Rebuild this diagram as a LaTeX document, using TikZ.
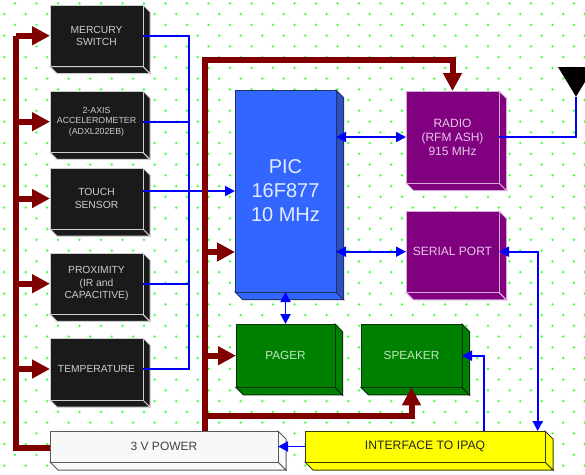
\documentclass[tikz,border=0pt]{standalone}
\usepackage{fontspec}
\setmainfont{Liberation Sans}
\usetikzlibrary{arrows.meta}
\definecolor{maroonbus}{RGB}{128,0,0}
\definecolor{dotgreen}{RGB}{40,255,40}
\definecolor{blk}{RGB}{26,26,26}
\definecolor{blkedge}{RGB}{205,205,205}
\definecolor{pur}{RGB}{128,0,128}
\definecolor{puredge}{RGB}{215,170,215}
\definecolor{puretxt}{RGB}{232,200,232}
\definecolor{grn}{RGB}{0,128,0}
\definecolor{grnedge}{RGB}{10,50,10}
\definecolor{grntxt}{RGB}{190,230,190}
\definecolor{picblue}{RGB}{51,102,255}
\definecolor{picside}{RGB}{44,80,190}
\definecolor{picedge}{RGB}{30,50,110}
\definecolor{pictxt}{RGB}{225,235,255}
\definecolor{pwr}{RGB}{248,248,248}
\definecolor{pwredge}{RGB}{90,90,90}
\definecolor{ylw}{RGB}{255,255,0}
\definecolor{ylwedge}{RGB}{60,60,0}
\tikzset{
  boxbase/.style={draw,line width=1pt,inner sep=0pt,outer sep=0pt,align=center,anchor=north west},
  sidebase/.style={draw,line width=1pt,line join=miter},
  power/.style={line width=6pt,maroonbus,line join=miter},
  powerarrow/.style={power,-{Triangle[length=18pt,width=18pt]}},
  sig/.style={line width=1.9pt,color=blue,line join=miter},
  sigto/.style={sig,-{Triangle[length=10pt,width=10pt]}},
  sigboth/.style={sig,{Triangle[length=10pt,width=10pt]}-{Triangle[length=10pt,width=10pt]}},
}
% name, x1,y1,x2,y2, depth, fill, edge, rightside
\newcommand{\hwblock}[9]{%
  \pgfmathsetmacro{\xa}{#2}\pgfmathsetmacro{\ya}{#3}%
  \pgfmathsetmacro{\xb}{#4}\pgfmathsetmacro{\yb}{#5}%
  \pgfmathsetmacro{\xc}{#4+#6}\pgfmathsetmacro{\yc}{#5+#6}%
  \pgfmathsetmacro{\blockw}{#4-#2}\pgfmathsetmacro{\blockh}{#5-#3}%
  \pgfmathsetmacro{\xd}{#2+#6}\pgfmathsetmacro{\yd}{#3+#6}%
  \draw[sidebase,draw=#8,fill=#7] (\xa,\yb) -- (\xd,\yc) -- (\xc,\yc) -- (\xb,\yb) -- cycle;%
  \draw[sidebase,draw=#8,fill=#9] (\xb,\ya) -- (\xc,\yd) -- (\xc,\yc) -- (\xb,\yb) -- cycle;%
  \node[boxbase,draw=#8,fill=#7,minimum width=\blockw pt,minimum height=\blockh pt] (#1) at (\xa,\ya) {};%
}
\begin{document}
\begin{tikzpicture}[x=1pt,y=-1pt]
\clip (0,0) rectangle (585,474);
\fill[white] (0,0) rectangle (585,474);
% dotted background
\foreach \k in {0,...,43}{
  \foreach \m in {0,...,27}{
    \pgfmathsetmacro{\dotx}{(mod(\k,2)==0 ? 15 : 4.2)+21.5*\m}
    \pgfmathsetmacro{\doty}{3.3+10.75*\k}
    \fill[dotgreen,opacity=.25] (\dotx,\doty) circle (1.9pt);
    \fill[dotgreen] (\dotx,\doty) circle (1pt);
  }
}
% blocks
\hwblock{merc}{50}{5}{143}{66.5}{7}{blk}{blkedge}{blk}
\hwblock{accel}{50}{91}{143}{152.4}{7}{blk}{blkedge}{blk}
\hwblock{touch}{50}{168}{143}{229}{7}{blk}{blkedge}{blk}
\hwblock{prox}{50}{253}{143}{314.4}{7}{blk}{blkedge}{blk}
\hwblock{temp}{50}{338}{143}{400}{7}{blk}{blkedge}{blk}
\hwblock{pic}{235}{90}{336}{292}{7.5}{picblue}{picedge}{picside}
\hwblock{radio}{406}{91}{499}{183}{7.5}{pur}{puredge}{pur}
\hwblock{serial}{406}{211}{499}{292.4}{7.5}{pur}{puredge}{pur}
\hwblock{pager}{236}{324}{335}{387.4}{7.5}{grn}{grnedge}{grn}
\hwblock{speaker}{361}{324}{462}{387.4}{7.5}{grn}{grnedge}{grn}
\hwblock{pwrbox}{50}{431}{278}{462}{8}{pwr}{pwredge}{pwr}
\hwblock{iface}{305}{431}{545}{462}{8}{ylw}{ylwedge}{ylw}
% block labels
\begin{scope}[every node/.style={align=center,inner sep=0pt}]
\node[text=blkedge,font=\fontsize{10.3}{12.5}\selectfont] (tmerc) at (merc.center) {MERCURY\\SWITCH};
\node[text=blkedge,font=\fontsize{8.8}{10.3}\selectfont] (taccel) at (accel.center) {2-AXIS\\ACCELEROMETER\\(ADXL202EB)};
\node[text=blkedge,font=\fontsize{10.3}{12.5}\selectfont] (ttouch) at (touch.center) {TOUCH\\SENSOR};
\node[text=blkedge,font=\fontsize{10.3}{12.5}\selectfont] (tprox) at (prox.center) {PROXIMITY\\(IR and\\CAPACITIVE)};
\node[text=blkedge,font=\fontsize{10.3}{12.5}\selectfont] (ttemp) at (temp.center) {TEMPERATURE};
\node[text=pictxt,font=\fontsize{20}{24}\selectfont] (tpic) at (pic.center) {PIC\\16F877\\10 MHz};
\node[text=puretxt,font=\fontsize{12}{14}\selectfont] (tradio) at (radio.center) {RADIO\\(RFM ASH)\\915 MHz};
\node[text=puretxt,font=\fontsize{12}{14}\selectfont] (tserial) at (serial.center) {SERIAL PORT};
\node[text=grntxt,font=\fontsize{11.8}{14}\selectfont] (tpager) at (pager.center) {PAGER};
\node[text=grntxt,font=\fontsize{11.8}{14}\selectfont] (tspeaker) at (speaker.center) {SPEAKER};
\node[text=black!75,font=\fontsize{12}{14}\selectfont] (tpwr) at (pwrbox.center) {3 V POWER};
\node[text=black!85,font=\fontsize{12.2}{14}\selectfont] (tiface) at (iface.center) {INTERFACE TO IPAQ};
\end{scope}
% junction and bend coordinates
\coordinate (sigbus) at (189,0);
\coordinate (leftbus) at (16.3,0);
\coordinate (midbus) at (204.5,0);
\coordinate (topbend) at (204.5,59.7);
\coordinate (lowbend) at (204.5,416);
\coordinate (antip) at (576,96.7);
\coordinate (antl) at (558,67);
\coordinate (antr) at (594,67);
\coordinate (serx) at (537.7,0);
\coordinate (spx) at (483.7,0);
\coordinate (lowy) at (0,447.5);
\coordinate (picpwr) at (0,252);
% sensor signal lines
\draw[sig] (merc.east) -- (sigbus |- merc.east) -- (sigbus |- temp.east) -- (temp.east);
\draw[sig] (accel.east) -- (sigbus |- accel.east);
\draw[sig] (prox.east) -- (sigbus |- prox.east);
\draw[sigto] (touch.east |- pic.west) -- (pic.west);
% power buses
\draw[power] (pwrbox.west |- lowy) -- (leftbus |- lowy) -- (leftbus |- merc.west);
\draw[powerarrow] (leftbus |- merc.west) -- (merc.west);
\draw[powerarrow] (leftbus |- accel.west) -- (accel.west);
\draw[powerarrow] (leftbus |- touch.west) -- (touch.west);
\draw[powerarrow] (leftbus |- prox.west) -- (prox.west);
\draw[powerarrow] (leftbus |- temp.west) -- (temp.west);
\draw[powerarrow] (midbus |- pwrbox.north) -- (topbend) -- (radio.north |- topbend) -- (radio.north);
\draw[powerarrow] (midbus |- picpwr) -- (pic.west |- picpwr);
\draw[powerarrow] (midbus |- pager.west) -- (pager.west);
\draw[powerarrow] (lowbend) -- (speaker.south |- lowbend) -- (speaker.south);
% antenna
\fill[black] (antl) -- (antr) -- (antip) -- cycle;
% other signals
\draw[sig] (radio.east) -- (antip |- radio.east) -- (antip);
\draw[sigboth] (pic.east |- radio.west) -- (radio.west);
\draw[sigboth] (pic.east |- serial.west) -- (serial.west);
\draw[sigboth] (pic.south) -- (pic.south |- pager.north);
\draw[sigboth] (serial.east) -- (serx |- serial.east) -- (serx |- iface.north);
\draw[sigto] (spx |- iface.north) -- (spx |- speaker.east) -- (speaker.east);
\draw[sigto] (iface.west) -- (pwrbox.east);
\end{tikzpicture}
\end{document}
